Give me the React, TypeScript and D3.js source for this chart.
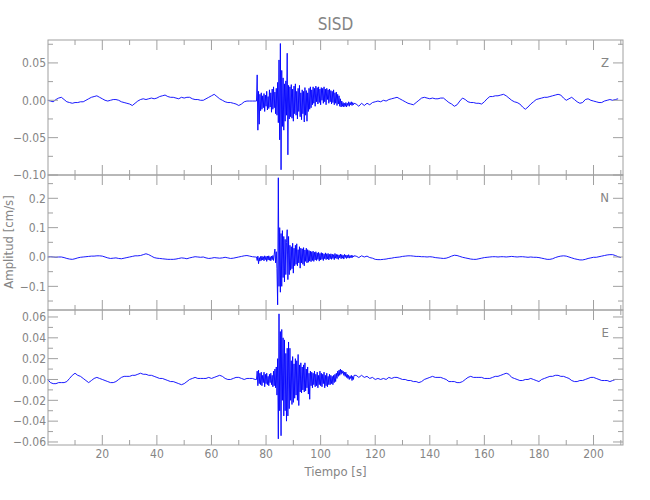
import React from 'react';
import * as d3 from 'd3';

// ---------- data (cm/s) ----------
// quiet part before the event, t = 0..76 s, 1 s step
const zQuietA = [
  0.000, -0.001, -0.002, 0.001, 0.003, 0.004, 0.001, -0.002, -0.003, -0.004,
  -0.003, -0.003, -0.002, -0.002, 0.000, 0.002, 0.004, 0.005, 0.006, 0.004,
  0.002, 0.000, -0.001, 0.000, 0.001, 0.001, 0.000, -0.002, -0.003, -0.004,
  -0.005, -0.007, -0.004, -0.001, 0.001, 0.002, 0.001, 0.002, 0.003, 0.002,
  0.003, 0.005, 0.006, 0.007, 0.005, 0.004, 0.004, 0.003, 0.002, 0.004,
  0.003, 0.004, 0.004, 0.002, 0.001, 0.001, 0.000, 0.000, 0.002, 0.004,
  0.006, 0.008, 0.005, 0.002, 0.000, -0.002, -0.003, -0.003, -0.004, -0.005,
  -0.007, -0.005, -0.002, -0.001, -0.001, -0.001, -0.001,
];
// strong motion, t = 76.5..112.25 s, 0.25 s step
const zBurst = [
  -0.001, 0.034, -0.040, 0.012, -0.032, 0.008, -0.014, 0.010,
  -0.012, 0.006, -0.010, 0.009, -0.015, 0.007, -0.008, 0.012,
  -0.013, 0.005, -0.011, 0.014, -0.009, 0.010, -0.016, 0.015,
  -0.012, 0.018, -0.010, 0.011, -0.018, 0.016, -0.020, 0.024,
  -0.030, 0.054, -0.053, 0.076, -0.093, 0.040, -0.035, 0.030,
  -0.040, 0.022, -0.028, 0.026, -0.020, 0.063, -0.073, 0.020,
  -0.025, 0.018, -0.022, 0.021, -0.024, 0.015, -0.028, 0.019,
  -0.018, 0.022, -0.020, 0.012, -0.025, 0.016, -0.015, 0.020,
  -0.022, 0.010, -0.026, 0.014, -0.018, 0.012, -0.029, 0.017,
  -0.020, 0.013, -0.028, 0.010, -0.015, 0.016, -0.012, 0.018,
  -0.010, 0.014, -0.006, 0.018, -0.004, 0.016, -0.008, 0.019,
  -0.002, 0.017, -0.005, 0.018, -0.003, 0.015, -0.006, 0.017,
  0.000, 0.016, -0.004, 0.018, -0.002, 0.015, -0.006, 0.016,
  0.001, 0.014, -0.004, 0.015, -0.002, 0.013, -0.005, 0.012,
  -0.003, 0.014, -0.006, 0.010, -0.004, 0.011, -0.007, 0.008,
  -0.005, 0.006, -0.008, 0.002, -0.009, -0.001, -0.008, -0.003,
  -0.009, -0.004, -0.008, -0.003, -0.009, -0.004, -0.007, -0.002,
  -0.008, -0.003, -0.006, -0.002, -0.007, -0.003, -0.006, -0.004,
];
// coda, t = 113.. s, 1 s step
const zQuietB = [
  -0.005, -0.008, -0.004, -0.007, -0.004, -0.006, -0.003, -0.002, -0.001, -0.002,
  0.000, -0.001, 0.001, 0.002, 0.003, 0.004, 0.002, 0.000, -0.002, -0.004,
  -0.005, -0.006, -0.003, 0.000, 0.003, 0.004, 0.003, 0.002, 0.003, 0.002,
  0.002, 0.003, 0.003, 0.000, -0.003, -0.005, -0.008, -0.006, -0.001, 0.003,
  0.001, -0.002, -0.003, -0.003, -0.004, -0.004, -0.005, -0.002, 0.002, 0.005,
  0.005, 0.006, 0.006, 0.007, 0.008, 0.006, 0.003, 0.000, -0.002, -0.003,
  -0.005, -0.009, -0.012, -0.009, -0.005, -0.002, 0.001, 0.002, 0.003, 0.004,
  0.004, 0.005, 0.006, 0.007, 0.008, 0.007, 0.003, 0.000, 0.002, 0.004,
  0.001, -0.002, -0.004, -0.003, 0.001, 0.002, 0.000, -0.001, -0.002, -0.003,
  -0.003, -0.001, 0.000, 0.001, 0.000, 0.001, 0.002,
];

const nQuietA = [
  0.000, 0.001, 0.000, -0.001, 0.000, 0.000, -0.002, -0.005, -0.007, -0.008,
  -0.006, -0.003, -0.001, 0.000, 0.001, 0.002, 0.003, 0.003, 0.004, 0.004,
  0.003, 0.000, -0.003, -0.005, -0.004, -0.003, -0.005, -0.006, -0.004, -0.002,
  0.000, 0.002, 0.004, 0.004, 0.005, 0.008, 0.011, 0.008, 0.003, -0.002,
  -0.004, -0.005, -0.006, -0.007, -0.008, -0.008, -0.008, -0.007, -0.005, -0.003,
  -0.004, -0.006, -0.003, -0.001, 0.001, 0.000, -0.001, 0.000, -0.003, -0.005,
  -0.004, -0.002, -0.003, -0.004, -0.003, -0.001, -0.003, -0.005, -0.004, -0.002,
  0.000, 0.002, 0.004, 0.005, 0.003, 0.001, 0.000,
];
const nBurst = [
  0.000, -0.012, 0.003, -0.023, -0.002, -0.014, 0.002, -0.012,
  0.003, -0.010, 0.001, -0.013, 0.004, -0.009, 0.002, -0.015,
  0.003, -0.010, 0.004, -0.011, 0.001, -0.013, 0.003, -0.009,
  0.005, -0.012, 0.010, 0.027, -0.020, 0.018, -0.040, -0.163,
  0.270, -0.100, 0.100, -0.120, 0.080, -0.100, 0.090, -0.070,
  0.070, -0.085, 0.060, -0.060, 0.050, 0.093, -0.077, 0.070,
  -0.060, 0.040, -0.045, 0.035, -0.040, 0.047, -0.055, 0.030,
  -0.030, 0.040, -0.025, 0.045, -0.030, 0.025, -0.020, 0.035,
  -0.038, 0.030, -0.020, 0.028, -0.025, 0.032, -0.030, 0.024,
  -0.015, 0.030, -0.020, 0.025, -0.018, 0.022, -0.014, 0.020,
  -0.016, 0.018, -0.012, 0.020, -0.015, 0.016, -0.010, 0.018,
  -0.012, 0.014, -0.008, 0.016, -0.014, 0.012, -0.010, 0.015,
  -0.008, 0.013, -0.012, 0.010, -0.006, 0.014, -0.009, 0.011,
  -0.007, 0.012, -0.010, 0.009, -0.006, 0.011, -0.008, 0.010,
  -0.005, 0.008, -0.009, 0.012, -0.004, 0.009, -0.006, 0.008,
  -0.008, 0.007, -0.003, 0.010, -0.006, 0.008, -0.004, 0.006,
  -0.007, 0.009, -0.002, 0.007, -0.005, 0.006, -0.003, 0.008,
  -0.004, 0.005, -0.002, 0.006, -0.003, 0.005, 0.000, 0.004,
];
const nQuietB = [
  0.003, -0.002, 0.004, 0.000, 0.003, -0.002, -0.004, -0.008, -0.009, -0.009,
  -0.008, -0.007, -0.005, -0.004, -0.002, -0.001, 0.000, 0.002, 0.003, 0.004,
  0.004, 0.003, 0.002, 0.002, 0.001, 0.001, 0.000, 0.001, 0.000, -0.002,
  -0.003, -0.004, -0.005, -0.004, -0.001, 0.003, 0.006, 0.005, 0.002, -0.001,
  -0.003, -0.005, -0.007, -0.008, -0.008, -0.006, -0.004, -0.002, -0.001, 0.000,
  0.001, 0.001, 0.000, 0.001, 0.001, 0.000, 0.001, 0.002, 0.001, 0.000,
  0.001, 0.001, 0.000, -0.001, 0.000, -0.001, -0.001, -0.002, -0.004, -0.006,
  -0.008, -0.008, -0.006, -0.002, 0.001, 0.003, 0.004, 0.003, 0.000, -0.003,
  -0.006, -0.008, -0.010, -0.010, -0.008, -0.005, -0.003, -0.001, -0.001, 0.001,
  0.003, 0.005, 0.007, 0.008, 0.008, 0.005, 0.001, -0.002,
];

const eQuietA = [
  0.000, -0.003, -0.004, -0.004, -0.003, -0.003, -0.003, -0.002, 0.001, 0.004,
  0.006, 0.004, 0.003, 0.001, -0.001, -0.003, -0.001, 0.001, 0.002, 0.001,
  0.000, -0.001, -0.002, -0.003, -0.003, -0.002, 0.000, 0.002, 0.003, 0.003,
  0.003, 0.004, 0.004, 0.005, 0.006, 0.005, 0.005, 0.004, 0.004, 0.003,
  0.002, 0.001, 0.001, 0.000, -0.001, -0.002, -0.002, -0.003, -0.004, -0.005,
  -0.004, -0.002, 0.000, 0.001, 0.002, 0.001, 0.001, 0.001, 0.001, 0.002,
  0.001, 0.002, 0.003, 0.004, 0.003, 0.001, 0.000, 0.000, 0.001, 0.002,
  0.002, 0.001, 0.000, 0.001, 0.001, 0.001, 0.000,
];
const eBurst = [
  0.000, 0.008, -0.006, 0.009, -0.004, 0.006, -0.005, 0.007,
  -0.006, 0.004, -0.003, 0.007, -0.007, 0.005, -0.004, 0.006,
  -0.005, 0.003, -0.006, 0.005, -0.003, 0.006, -0.005, 0.004,
  -0.007, 0.008, -0.006, 0.010, -0.008, 0.012, -0.015, 0.020,
  -0.057, 0.063, -0.030, 0.046, -0.054, 0.048, -0.020, 0.040,
  -0.035, 0.038, -0.030, 0.025, -0.040, 0.030, -0.035, 0.036,
  -0.028, 0.030, -0.020, 0.018, -0.024, 0.022, -0.022, 0.015,
  -0.018, 0.020, -0.015, 0.018, -0.020, 0.024, -0.025, 0.014,
  -0.012, 0.016, -0.013, 0.012, -0.010, 0.014, -0.012, 0.016,
  -0.011, 0.010, -0.008, 0.012, -0.014, 0.006, -0.019, 0.008,
  -0.006, 0.007, -0.008, 0.006, -0.005, 0.008, -0.007, 0.005,
  -0.006, 0.007, -0.008, 0.004, -0.005, 0.008, -0.006, 0.006,
  -0.007, 0.005, -0.004, 0.007, -0.008, 0.004, -0.006, 0.006,
  -0.007, 0.003, -0.005, 0.005, -0.005, 0.004, -0.004, 0.003,
  -0.005, 0.004, -0.003, 0.005, -0.002, 0.006, 0.001, 0.008,
  0.003, 0.009, 0.004, 0.010, 0.005, 0.009, 0.006, 0.008,
  0.004, 0.007, 0.003, 0.007, 0.002, 0.005, 0.001, 0.004,
  0.000, 0.003, 0.001, 0.004, -0.001, 0.003, 0.000, 0.004,
];
const eQuietB = [
  0.004, 0.002, 0.004, 0.002, 0.003, 0.001, 0.002, 0.000, 0.001, 0.000,
  0.001, 0.000, 0.002, 0.001, 0.002, 0.002, 0.001, 0.000, 0.000, -0.001,
  -0.001, -0.002, -0.002, -0.003, -0.002, 0.000, 0.001, 0.002, 0.003, 0.002,
  0.002, 0.002, 0.001, 0.000, -0.002, -0.002, -0.002, -0.003, -0.003, -0.002,
  0.000, 0.002, 0.003, 0.002, 0.002, 0.002, 0.002, 0.001, 0.001, 0.001,
  0.002, 0.003, 0.003, 0.004, 0.005, 0.006, 0.005, 0.002, 0.001, 0.000,
  -0.001, -0.001, 0.000, 0.000, 0.001, 0.000, -0.001, -0.002, 0.000, 0.001,
  0.002, 0.003, 0.003, 0.004, 0.004, 0.003, 0.003, 0.002, 0.001, -0.001,
  -0.002, -0.002, -0.001, -0.001, 0.000, 0.001, 0.002, 0.002, 0.001, 0.000,
  -0.001, -0.001, -0.001, -0.002, -0.001, 0.000, 0.000,
];

const channelNames = ['Z', 'N', 'E'];
const zMajor = [-0.1, -0.05, 0, 0.05];
const zMinor = [-0.075, -0.025, 0.025, 0.075];
const nMajor = [-0.1, 0, 0.1, 0.2];
const nMinor = [-0.15, -0.05, 0.05, 0.15, 0.25];
const eMajor = [-0.06, -0.04, -0.02, 0, 0.02, 0.04, 0.06];
const eMinor = [-0.05, -0.03, -0.01, 0.01, 0.03, 0.05];
const xMajor = [20, 40, 60, 80, 100, 120, 140, 160, 180, 200];
const xMinor = [10, 30, 50, 70, 90, 110, 130, 150, 170, 190, 210];

const quietAStart = 0;
const burstStart = 76.5;
const burstStep = 0.25;
const quietBStart = 113;

function buildSeries(a: number[], b: number[], c: number[]): [number, number][] {
  const out: [number, number][] = [];
  a.forEach((v, i) => out.push([quietAStart + i, v]));
  b.forEach((v, i) => out.push([burstStart + i * burstStep, v]));
  c.forEach((v, i) => out.push([quietBStart + i, v]));
  return out;
}

const FONT = "'Liberation Sans Narrow', 'DejaVu Sans Condensed', 'Liberation Sans', sans-serif";
const TXT = '#858585';
const AX = '#a0a0a0';

export default function App() {
  const W = 650;
  const H = 500;
  const left = 48;
  const right = 623;
  const x = d3.scaleLinear().domain([0.1, 210.8]).range([left, right]);

  const panels = [
    { name: channelNames[0], top: 40, bottom: 175, domain: [-0.1, 0.0807], major: zMajor, minor: zMinor, fmt: d3.format('.2f'), data: buildSeries(zQuietA, zBurst, zQuietB) },
    { name: channelNames[1], top: 175, bottom: 310, domain: [-0.1806, 0.2794], major: nMajor, minor: nMinor, fmt: d3.format('.1f'), data: buildSeries(nQuietA, nBurst, nQuietB) },
    { name: channelNames[2], top: 310, bottom: 445, domain: [-0.0629, 0.0667], major: eMajor, minor: eMinor, fmt: d3.format('.2f'), data: buildSeries(eQuietA, eBurst, eQuietB) },
  ];

  return (
    <div style={{ position: 'fixed', left: 0, top: 0, width: W, height: H, background: '#fff' }}>
      <svg width={W} height={H} style={{ display: 'block' }}>
        <rect width={W} height={H} fill="#fff" />
        <text x={(left + right) / 2} y={30} textAnchor="middle" fontFamily={FONT} fontSize={17} fill={TXT}>SISD</text>
        {panels.map((p, pi) => {
          const y = d3.scaleLinear().domain(p.domain).range([p.bottom, p.top]);
          const line = d3.line<[number, number]>().x((d) => x(d[0])).y((d) => y(d[1]));
          return (
            <g key={pi}>
              <path d={line(p.data) || ''} fill="none" stroke="#0000ff" strokeWidth={0.9} strokeLinejoin="round" />
              <rect x={left} y={p.top} width={right - left} height={p.bottom - p.top} fill="none" stroke={AX} strokeWidth={1} />
              {xMajor.map((t) => (
                <g key={'xm' + t}>
                  <line x1={x(t)} x2={x(t)} y1={p.top} y2={p.top + 10} stroke={AX} />
                  <line x1={x(t)} x2={x(t)} y1={p.bottom} y2={p.bottom - 10} stroke={AX} />
                </g>
              ))}
              {xMinor.map((t) => (
                <g key={'xn' + t}>
                  <line x1={x(t)} x2={x(t)} y1={p.top} y2={p.top + 5} stroke={AX} />
                  <line x1={x(t)} x2={x(t)} y1={p.bottom} y2={p.bottom - 5} stroke={AX} />
                </g>
              ))}
              {p.major.map((v) => (
                <g key={'ym' + v}>
                  <line x1={left} x2={left + 10} y1={y(v)} y2={y(v)} stroke={AX} />
                  <line x1={right} x2={right - 10} y1={y(v)} y2={y(v)} stroke={AX} />
                  <text x={left - 2} y={y(v)} dy="0.36em" textAnchor="end" fontFamily={FONT} fontSize={12} fill={TXT}>{p.fmt(v)}</text>
                </g>
              ))}
              {p.minor.map((v) => (
                <g key={'yn' + v}>
                  <line x1={left} x2={left + 5} y1={y(v)} y2={y(v)} stroke={AX} />
                  <line x1={right} x2={right - 5} y1={y(v)} y2={y(v)} stroke={AX} />
                </g>
              ))}
              <text x={609} y={p.top + 22} dy="0.36em" textAnchor="end" fontFamily={FONT} fontSize={13} fill={TXT}>{p.name}</text>
            </g>
          );
        })}
        {xMajor.map((t) => (
          <text key={'xl' + t} x={x(t)} y={458} textAnchor="middle" fontFamily={FONT} fontSize={12} fill={TXT}>{t}</text>
        ))}
        <text x={(left + right) / 2} y={476} textAnchor="middle" fontFamily={FONT} fontSize={13} fill={TXT}>Tiempo [s]</text>
        <text transform={`translate(13,242) rotate(-90)`} textAnchor="middle" fontFamily={FONT} fontSize={13} fill={TXT}>Amplitud [cm/s]</text>
      </svg>
    </div>
  );
}
